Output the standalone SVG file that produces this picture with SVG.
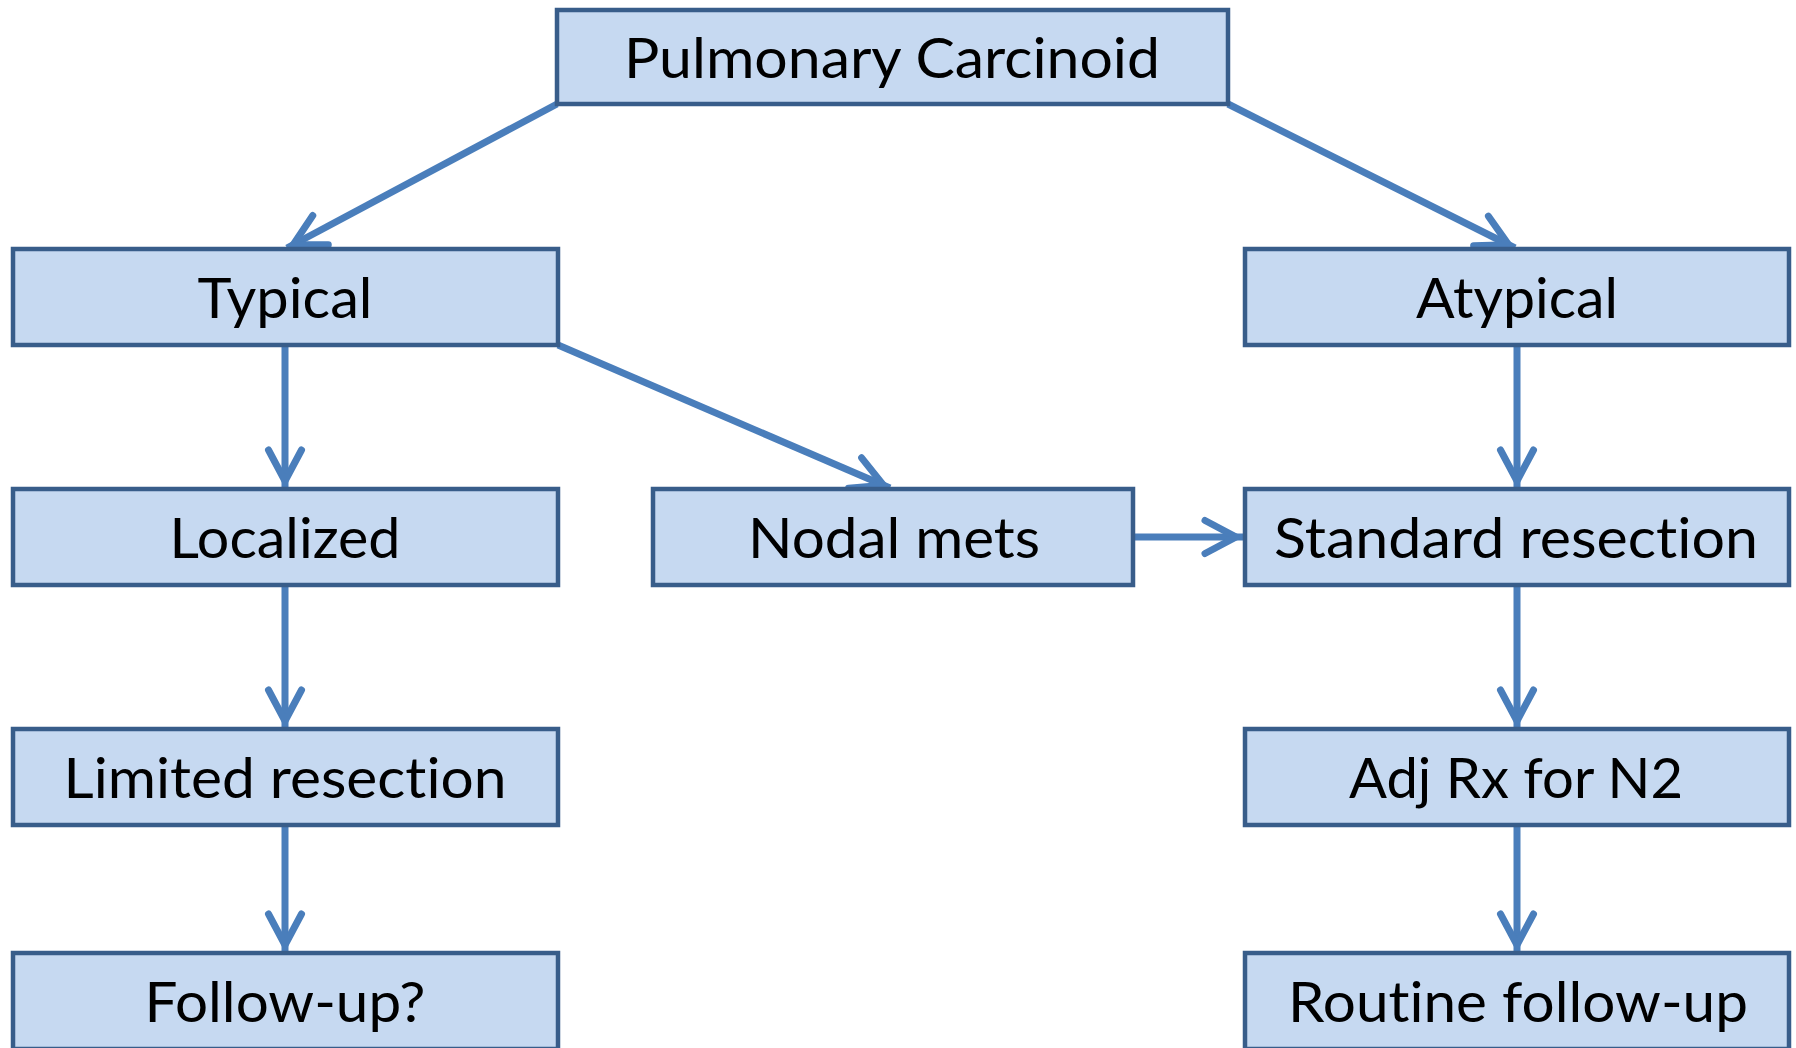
<svg xmlns="http://www.w3.org/2000/svg" width="1796" height="1048" viewBox="0 0 1796 1048">
<style>
.box{fill:#C6D9F1;stroke:#385D8A;stroke-width:4.5}
.lbl{font-family:Lato,"Open Sans","Liberation Sans",sans-serif;font-size:57px;fill:#000;text-anchor:middle;font-variant-ligatures:none}
.c{stroke:#4A7EBB;stroke-width:7;fill:none}
</style>
<defs>
<marker id="arr" markerUnits="userSpaceOnUse" markerWidth="60" markerHeight="60" viewBox="-40 -30 60 60" refX="7" refY="0" orient="auto" overflow="visible">
<path d="M-31,-16.5 L0,0 L-31,16.5" fill="none" stroke="#4A7EBB" stroke-width="7" stroke-linecap="round" stroke-linejoin="miter"/>
</marker>
</defs>
<rect width="1796" height="1048" fill="#fff"/>
<g id="connectors">
<line class="c" x1="557" y1="104" x2="287" y2="248" marker-end="url(#arr)"/>
<line class="c" x1="1228" y1="104" x2="1515" y2="248" marker-end="url(#arr)"/>
<line class="c" x1="558" y1="345" x2="890" y2="488" marker-end="url(#arr)"/>
<line class="c" x1="285" y1="345" x2="285" y2="488" marker-end="url(#arr)"/>
<line class="c" x1="285" y1="585" x2="285" y2="728" marker-end="url(#arr)"/>
<line class="c" x1="285" y1="825" x2="285" y2="952" marker-end="url(#arr)"/>
<line class="c" x1="1517" y1="345" x2="1517" y2="488" marker-end="url(#arr)"/>
<line class="c" x1="1517" y1="585" x2="1517" y2="728" marker-end="url(#arr)"/>
<line class="c" x1="1517" y1="825" x2="1517" y2="952" marker-end="url(#arr)"/>
<line class="c" x1="1133" y1="537" x2="1243" y2="537" marker-end="url(#arr)"/>
</g>
<g id="n-pulmonary"><rect class="box" x="557" y="10" width="671" height="94"/><text class="lbl" x="892" y="78" textLength="536" lengthAdjust="spacingAndGlyphs">Pulmonary Carcinoid</text></g>
<g id="n-typical"><rect class="box" x="13" y="249" width="545" height="96"/><text class="lbl" x="285" y="318" textLength="175" lengthAdjust="spacingAndGlyphs">Typical</text></g>
<g id="n-atypical"><rect class="box" x="1245" y="249" width="544" height="96"/><text class="lbl" x="1517" y="318" textLength="202" lengthAdjust="spacingAndGlyphs">Atypical</text></g>
<g id="n-localized"><rect class="box" x="13" y="489" width="545" height="96"/><text class="lbl" x="285" y="558" textLength="231" lengthAdjust="spacingAndGlyphs">Localized</text></g>
<g id="n-nodal"><rect class="box" x="653" y="489" width="480" height="96"/><text class="lbl" x="894" y="558" textLength="292" lengthAdjust="spacingAndGlyphs">Nodal mets</text></g>
<g id="n-standard"><rect class="box" x="1245" y="489" width="544" height="96"/><text class="lbl" x="1516" y="558" textLength="484" lengthAdjust="spacingAndGlyphs">Standard resection</text></g>
<g id="n-limited"><rect class="box" x="13" y="729" width="545" height="96"/><text class="lbl" x="285" y="798" textLength="443" lengthAdjust="spacingAndGlyphs">Limited resection</text></g>
<g id="n-adj"><rect class="box" x="1245" y="729" width="544" height="96"/><text class="lbl" x="1516" y="798" textLength="334" lengthAdjust="spacingAndGlyphs">Adj Rx for N2</text></g>
<g id="n-followup"><rect class="box" x="13" y="953" width="545" height="96"/><text class="lbl" x="285" y="1022" textLength="281" lengthAdjust="spacingAndGlyphs">Follow-up?</text></g>
<g id="n-routine"><rect class="box" x="1245" y="953" width="544" height="96"/><text class="lbl" x="1518" y="1022" textLength="460" lengthAdjust="spacingAndGlyphs">Routine follow-up</text></g>
</svg>
